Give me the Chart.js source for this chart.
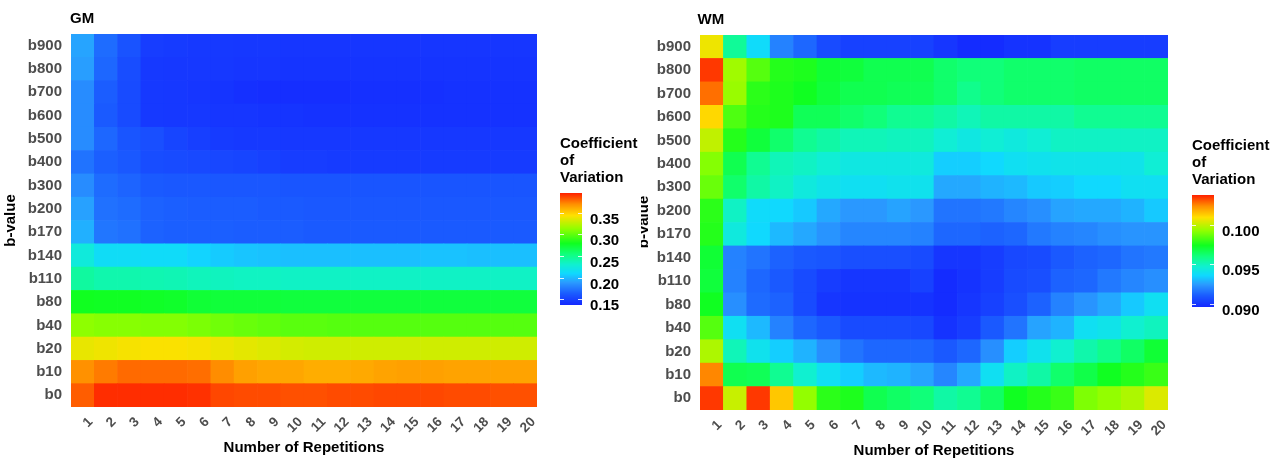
<!DOCTYPE html>
<html>
<head>
<meta charset="utf-8">
<title>Coefficient of Variation - GM / WM</title>
<script src="https://cdn.jsdelivr.net/npm/chart.js@4.4.1/dist/chart.umd.min.js"></script>
<style>
  html, body { margin: 0; padding: 0; background: #fff; }
  #wrap { position: relative; width: 1284px; height: 461px; overflow: hidden; }
  #gmChart { position: absolute; left: 0; top: 0; }
  #wmChart { position: absolute; left: 641px; top: 0; }
</style>
</head>
<body>
<div id="wrap">
  <canvas id="gmChart" width="640" height="461"></canvas>
  <canvas id="wmChart" width="643" height="461"></canvas>
</div>
<script>
// rows bottom -> top
const bValues = ['b0', 'b10', 'b20', 'b40', 'b80', 'b110', 'b140', 'b170', 'b200', 'b300', 'b400', 'b500', 'b600', 'b700', 'b800', 'b900'];
const repetitions = ['1', '2', '3', '4', '5', '6', '7', '8', '9', '10', '11', '12', '13', '14', '15', '16', '17', '18', '19', '20'];

// colour bar limits and ticks
const gmLimits = [0.137, 0.395];
const gmTicks = [0.15, 0.20, 0.25, 0.30, 0.35];
const wmLimits = [0.0896, 0.1038];
const wmTicks = [0.090, 0.095, 0.100];

// GM coefficient of variation, one row per b-value (b0 first)
const gmCV = [
  [0.381, 0.392, 0.392, 0.392, 0.392, 0.391, 0.386, 0.385, 0.385, 0.384, 0.384, 0.385, 0.385, 0.386, 0.386, 0.386, 0.385, 0.385, 0.384, 0.384], // b0
  [0.369, 0.374, 0.378, 0.378, 0.378, 0.377, 0.370, 0.364, 0.362, 0.362, 0.360, 0.360, 0.361, 0.363, 0.364, 0.364, 0.363, 0.363, 0.363, 0.363], // b10
  [0.337, 0.339, 0.341, 0.342, 0.342, 0.341, 0.338, 0.336, 0.334, 0.331, 0.330, 0.330, 0.330, 0.330, 0.330, 0.330, 0.330, 0.330, 0.330, 0.330], // b20
  [0.312, 0.310, 0.310, 0.309, 0.309, 0.307, 0.304, 0.302, 0.300, 0.298, 0.298, 0.297, 0.297, 0.297, 0.297, 0.297, 0.297, 0.297, 0.297, 0.297], // b40
  [0.279, 0.278, 0.278, 0.277, 0.276, 0.273, 0.272, 0.272, 0.272, 0.271, 0.271, 0.271, 0.271, 0.271, 0.271, 0.271, 0.271, 0.271, 0.271, 0.271], // b80
  [0.244, 0.240, 0.240, 0.239, 0.238, 0.236, 0.235, 0.234, 0.234, 0.233, 0.233, 0.233, 0.233, 0.233, 0.233, 0.233, 0.233, 0.233, 0.233, 0.233], // b110
  [0.225, 0.213, 0.213, 0.212, 0.212, 0.208, 0.205, 0.203, 0.202, 0.201, 0.201, 0.201, 0.201, 0.201, 0.201, 0.202, 0.202, 0.201, 0.201, 0.201], // b140
  [0.196, 0.174, 0.172, 0.166, 0.165, 0.165, 0.165, 0.164, 0.164, 0.164, 0.163, 0.163, 0.163, 0.163, 0.163, 0.163, 0.163, 0.163, 0.163, 0.163], // b170
  [0.191, 0.172, 0.170, 0.166, 0.165, 0.164, 0.164, 0.164, 0.163, 0.163, 0.162, 0.162, 0.162, 0.162, 0.162, 0.162, 0.162, 0.162, 0.162, 0.162], // b200
  [0.183, 0.170, 0.167, 0.163, 0.162, 0.162, 0.161, 0.161, 0.161, 0.160, 0.160, 0.160, 0.160, 0.160, 0.160, 0.160, 0.160, 0.160, 0.160, 0.160], // b300
  [0.173, 0.165, 0.162, 0.156, 0.155, 0.154, 0.153, 0.152, 0.150, 0.148, 0.148, 0.147, 0.147, 0.147, 0.147, 0.147, 0.147, 0.147, 0.147, 0.147], // b400
  [0.183, 0.168, 0.160, 0.157, 0.152, 0.149, 0.147, 0.146, 0.146, 0.145, 0.145, 0.145, 0.145, 0.145, 0.145, 0.145, 0.145, 0.145, 0.145, 0.145], // b500
  [0.183, 0.163, 0.155, 0.146, 0.145, 0.145, 0.144, 0.144, 0.143, 0.143, 0.142, 0.142, 0.142, 0.142, 0.142, 0.142, 0.142, 0.142, 0.142, 0.142], // b600
  [0.183, 0.164, 0.155, 0.146, 0.145, 0.144, 0.143, 0.141, 0.140, 0.140, 0.140, 0.140, 0.141, 0.141, 0.141, 0.141, 0.142, 0.142, 0.142, 0.142], // b700
  [0.190, 0.168, 0.156, 0.146, 0.145, 0.145, 0.145, 0.144, 0.144, 0.143, 0.143, 0.143, 0.143, 0.143, 0.143, 0.143, 0.143, 0.143, 0.143, 0.143], // b800
  [0.192, 0.170, 0.159, 0.148, 0.147, 0.146, 0.146, 0.145, 0.145, 0.144, 0.144, 0.144, 0.144, 0.144, 0.144, 0.144, 0.144, 0.144, 0.144, 0.144]  // b900
];

// WM coefficient of variation
const wmCV = [
  [0.1035, 0.1001, 0.1035, 0.1014, 0.0993, 0.0978, 0.0976, 0.0967, 0.0964, 0.0961, 0.0954, 0.0957, 0.0964, 0.0974, 0.0977, 0.0980, 0.0990, 0.0993, 0.0997, 0.1004], // b0
  [0.1025, 0.0967, 0.0966, 0.0957, 0.0947, 0.0939, 0.0934, 0.0930, 0.0929, 0.0926, 0.0920, 0.0927, 0.0939, 0.0949, 0.0954, 0.0963, 0.0968, 0.0974, 0.0977, 0.0980], // b10
  [0.0997, 0.0951, 0.0940, 0.0934, 0.0929, 0.0922, 0.0916, 0.0913, 0.0913, 0.0913, 0.0910, 0.0913, 0.0922, 0.0934, 0.0940, 0.0947, 0.0953, 0.0958, 0.0964, 0.0971], // b20
  [0.0984, 0.0939, 0.0930, 0.0919, 0.0913, 0.0910, 0.0906, 0.0906, 0.0906, 0.0905, 0.0899, 0.0902, 0.0910, 0.0916, 0.0926, 0.0929, 0.0939, 0.0941, 0.0947, 0.0950], // b40
  [0.0974, 0.0922, 0.0914, 0.0912, 0.0906, 0.0900, 0.0899, 0.0899, 0.0899, 0.0899, 0.0897, 0.0900, 0.0903, 0.0907, 0.0912, 0.0919, 0.0923, 0.0927, 0.0933, 0.0939], // b80
  [0.0970, 0.0919, 0.0913, 0.0910, 0.0906, 0.0902, 0.0900, 0.0900, 0.0900, 0.0903, 0.0897, 0.0899, 0.0902, 0.0906, 0.0907, 0.0912, 0.0913, 0.0917, 0.0920, 0.0922], // b110
  [0.0971, 0.0919, 0.0916, 0.0912, 0.0910, 0.0909, 0.0907, 0.0907, 0.0907, 0.0906, 0.0900, 0.0900, 0.0902, 0.0905, 0.0906, 0.0910, 0.0912, 0.0913, 0.0916, 0.0917], // b140
  [0.0977, 0.0944, 0.0936, 0.0930, 0.0927, 0.0923, 0.0920, 0.0920, 0.0920, 0.0919, 0.0913, 0.0913, 0.0912, 0.0913, 0.0917, 0.0919, 0.0920, 0.0922, 0.0923, 0.0923], // b170
  [0.0978, 0.0949, 0.0937, 0.0936, 0.0933, 0.0927, 0.0924, 0.0924, 0.0926, 0.0924, 0.0916, 0.0916, 0.0917, 0.0920, 0.0922, 0.0926, 0.0927, 0.0927, 0.0929, 0.0933], // b200
  [0.0987, 0.0963, 0.0954, 0.0949, 0.0944, 0.0941, 0.0939, 0.0939, 0.0940, 0.0940, 0.0927, 0.0927, 0.0929, 0.0930, 0.0933, 0.0934, 0.0936, 0.0936, 0.0939, 0.0939], // b300
  [0.0991, 0.0967, 0.0957, 0.0951, 0.0949, 0.0946, 0.0943, 0.0943, 0.0943, 0.0944, 0.0934, 0.0934, 0.0936, 0.0939, 0.0940, 0.0941, 0.0941, 0.0941, 0.0941, 0.0946], // b400
  [0.1000, 0.0977, 0.0970, 0.0963, 0.0957, 0.0954, 0.0951, 0.0951, 0.0950, 0.0950, 0.0946, 0.0943, 0.0946, 0.0944, 0.0946, 0.0949, 0.0949, 0.0949, 0.0949, 0.0949], // b500
  [0.1011, 0.0983, 0.0977, 0.0976, 0.0966, 0.0966, 0.0963, 0.0961, 0.0957, 0.0957, 0.0954, 0.0951, 0.0954, 0.0954, 0.0954, 0.0954, 0.0957, 0.0957, 0.0957, 0.0957], // b600
  [0.1028, 0.0994, 0.0978, 0.0976, 0.0974, 0.0970, 0.0967, 0.0967, 0.0966, 0.0966, 0.0963, 0.0958, 0.0961, 0.0963, 0.0963, 0.0963, 0.0964, 0.0964, 0.0964, 0.0964], // b700
  [0.1035, 0.0995, 0.0984, 0.0977, 0.0976, 0.0971, 0.0970, 0.0967, 0.0967, 0.0967, 0.0963, 0.0961, 0.0961, 0.0963, 0.0963, 0.0963, 0.0964, 0.0964, 0.0964, 0.0964], // b800
  [0.1007, 0.0956, 0.0937, 0.0919, 0.0913, 0.0906, 0.0903, 0.0903, 0.0903, 0.0903, 0.0900, 0.0897, 0.0897, 0.0899, 0.0899, 0.0902, 0.0902, 0.0902, 0.0902, 0.0902]  // b900
];

// rainbow palette, low (blue) -> high (red)
const paletteStops = [
  [0.00, [20, 40, 255]],
  [0.10, [26, 90, 255]],
  [0.20, [42, 154, 255]],
  [0.28, [16, 216, 255]],
  [0.36, [16, 240, 208]],
  [0.45, [16, 255, 128]],
  [0.55, [16, 255, 32]],
  [0.68, [144, 255, 0]],
  [0.80, [255, 224, 0]],
  [0.90, [255, 144, 0]],
  [1.00, [255, 32, 0]]
];

function cvColor(v, limits) {
  let t = (v - limits[0]) / (limits[1] - limits[0]);
  t = Math.max(0, Math.min(1, t));
  for (let i = 1; i < paletteStops.length; i++) {
    const [t1, c1] = paletteStops[i];
    if (t <= t1) {
      const [t0, c0] = paletteStops[i - 1];
      const f = (t - t0) / (t1 - t0);
      const c = c0.map((x, k) => Math.round(x + (c1[k] - x) * f));
      return `rgb(${c[0]}, ${c[1]}, ${c[2]})`;
    }
  }
  return 'rgb(255, 32, 0)';
}

const FONT = '"Liberation Sans", Arial, sans-serif';

// draws panel title, colour bar legend and the clipped y title
const panelDecor = {
  id: 'panelDecor',
  afterDraw(chart, args, o) {
    const ctx = chart.ctx;
    ctx.save();
    ctx.fillStyle = '#000';
    ctx.font = `bold 15px ${FONT}`;
    ctx.textAlign = 'left';
    ctx.textBaseline = 'alphabetic';
    ctx.fillText(o.panel, o.titleX, o.titleY);

    ['Coefficient', 'of', 'Variation'].forEach((line, i) => {
      ctx.fillText(line, o.barX, o.legendY + i * 17);
    });

    const lim = o.limits;
    const h = o.barBottom - o.barTop;
    for (let y = 0; y < h; y++) {
      const v = lim[1] - (y + 0.5) / h * (lim[1] - lim[0]);
      ctx.fillStyle = cvColor(v, lim);
      ctx.fillRect(o.barX, o.barTop + y, o.barW, 1);
    }

    ctx.strokeStyle = 'rgba(255,255,255,0.85)';
    ctx.lineWidth = 1;
    ctx.fillStyle = '#000';
    ctx.textBaseline = 'middle';
    o.ticks.forEach(tv => {
      const y = Math.round(o.barTop + (lim[1] - tv) / (lim[1] - lim[0]) * h) + 0.5;
      ctx.beginPath();
      ctx.moveTo(o.barX, y); ctx.lineTo(o.barX + 4, y);
      ctx.moveTo(o.barX + o.barW - 4, y); ctx.lineTo(o.barX + o.barW, y);
      ctx.stroke();
      ctx.fillText(tv.toFixed(o.decimals), o.barX + o.barW + 8, y + 6);
    });

    if (o.sideTitle) {
      ctx.translate(o.sideTitle[0], o.sideTitle[1]);
      ctx.rotate(-Math.PI / 2);
      ctx.textAlign = 'center';
      ctx.textBaseline = 'alphabetic';
      ctx.fillText('b-value', 0, 0);
    }
    ctx.restore();
  }
};

function makeHeatmap(canvasId, values, limits, layout, decor) {
  const datasets = bValues.map((b, r) => ({
    label: b,
    data: repetitions.map(() => [r, r + 1]),
    backgroundColor: values[r].map(v => cvColor(v, limits)),
    borderWidth: 0,
    barPercentage: 1,
    categoryPercentage: 1,
    grouped: false
  }));

  return new Chart(document.getElementById(canvasId), {
    type: 'bar',
    data: { labels: repetitions, datasets: datasets },
    options: {
      responsive: false,
      animation: false,
      devicePixelRatio: 1,
      layout: { padding: { top: layout.top, right: layout.right, left: 0, bottom: 0 } },
      plugins: {
        legend: { display: false },
        tooltip: { enabled: false },
        panelDecor: decor
      },
      scales: {
        x: {
          type: 'category',
          grid: { display: false, drawTicks: false },
          border: { display: false },
          ticks: {
            autoSkip: false,
            minRotation: 45,
            maxRotation: 45,
            padding: 7,
            labelOffset: 8,
            color: '#4d4d4d',
            font: { family: FONT, size: 13.5, weight: 'bold' }
          },
          title: {
            display: true,
            text: 'Number of Repetitions',
            color: '#000',
            padding: { top: 0, bottom: layout.xTitlePad },
            font: { family: FONT, size: 15, weight: 'bold' }
          },
          afterFit: axis => { axis.height = layout.xHeight; }
        },
        y: {
          type: 'linear',
          min: 0,
          max: bValues.length,
          grid: { display: false, drawTicks: false },
          border: { display: false },
          afterBuildTicks: axis => { axis.ticks = bValues.map((b, i) => ({ value: i + 0.5 })); },
          ticks: {
            autoSkip: false,
            padding: 9,
            color: '#4d4d4d',
            font: { family: FONT, size: 15, weight: 'bold' },
            callback: v => bValues[Math.floor(v)]
          },
          title: {
            display: layout.yTitle,
            text: 'b-value',
            color: '#000',
            padding: { top: 2, bottom: 0 },
            font: { family: FONT, size: 15, weight: 'bold' }
          },
          afterFit: axis => { axis.width = layout.yWidth; }
        }
      }
    },
    plugins: [panelDecor]
  });
}

makeHeatmap('gmChart', gmCV, gmLimits,
  { top: 34, right: 103, xHeight: 54, xTitlePad: 4, yWidth: 71, yTitle: true },
  { panel: 'GM', titleX: 70, titleY: 23, barX: 560, barW: 22, barTop: 193, barBottom: 305,
    legendY: 148, limits: gmLimits, ticks: gmTicks, decimals: 2, sideTitle: null });

makeHeatmap('wmChart', wmCV, wmLimits,
  { top: 35, right: 116, xHeight: 51, xTitlePad: 1, yWidth: 59, yTitle: false },
  { panel: 'WM', titleX: 56.5, titleY: 23.5, barX: 551, barW: 22, barTop: 195, barBottom: 307,
    legendY: 150, limits: wmLimits, ticks: wmTicks, decimals: 3, sideTitle: [7, 222] });
</script>
</body>
</html>
